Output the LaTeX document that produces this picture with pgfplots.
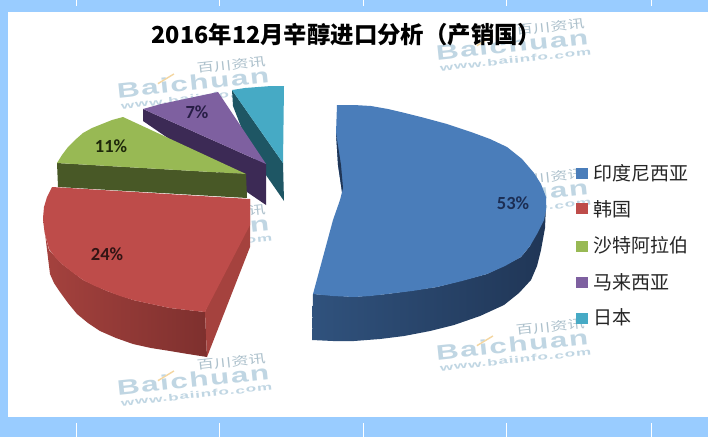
\documentclass[border=0pt]{standalone}
\usepackage{pgfplots}
\pgfplotsset{compat=1.18}
\usepackage{fontspec}
\setmainfont{Carlito}
\newfontfamily\cjk{Noto Sans CJK SC}
\newfontfamily\wm[LetterSpace=5]{Liberation Sans}
\definecolor{bg}{RGB}{153,204,255}
\definecolor{tb}{RGB}{74,125,186}\definecolor{sb}{RGB}{32,54,86}
\definecolor{sb2}{RGB}{48,82,125}
\definecolor{tr}{RGB}{190,76,74}\definecolor{sr}{RGB}{165,66,62}\definecolor{sr2}{RGB}{126,48,46}
\definecolor{tg}{RGB}{152,185,84}\definecolor{sg}{RGB}{72,88,38}
\definecolor{tp}{RGB}{126,96,160}\definecolor{sp}{RGB}{60,42,85}
\definecolor{tt}{RGB}{70,170,197}\definecolor{st}{RGB}{30,86,100}
\definecolor{wmc}{RGB}{192,214,227}
\definecolor{wmo}{RGB}{244,214,160}
\definecolor{lb}{RGB}{28,46,84}\definecolor{lr}{RGB}{50,20,20}\definecolor{lg}{RGB}{30,40,10}\definecolor{lp}{RGB}{40,30,70}
\newcommand{\logo}[2]{%
 \begin{scope}[shift={(axis cs:#1,#2)},rotate=6,transform shape]
 \node[text=wmc,inner sep=0] at (0,0) {\scalebox{1.5}[1]{\wm\bfseries\fontsize{21}{21}\selectfont Baichuan}};
 \node[text=wmc!90!black,inner sep=0] at (40pt,14pt) {\scalebox{1.15}[0.8]{\cjk\fontsize{15}{15}\selectfont 百川资讯}};
 \node[text=wmc,inner sep=0] at (2pt,-15pt) {\scalebox{1.8}[1]{\wm\bfseries\fontsize{9.5}{9.5}\selectfont www.baiinfo.com}};
 \draw[wmo,line width=1.4pt] (-35pt,3pt) -- (-18pt,11pt);
 \end{scope}}
\begin{document}
\begin{tikzpicture}
\begin{axis}[x=1pt,y=1pt,y dir=reverse,xmin=0,xmax=708,ymin=0,ymax=437,hide axis,clip=true,scale only axis]
% page
\addplot[fill=bg,draw=none] coordinates {(0,0)(708,0)(708,437)(0,437)} --cycle;
\addplot[fill=white,draw=none] coordinates {(8,12)(708,12)(708,417)(8,417)} --cycle;
\addplot[white,line width=0.4pt] coordinates {(76,0)(76,6)};
\addplot[white,line width=0.4pt] coordinates {(219,0)(219,6)};
\addplot[white,line width=0.4pt] coordinates {(363,0)(363,6)};
\addplot[white,line width=0.4pt] coordinates {(506,0)(506,6)};
\addplot[white,line width=0.4pt] coordinates {(651,0)(651,6)};
\addplot[white,line width=0.4pt] coordinates {(76,423)(76,437)};
\addplot[white,line width=0.4pt] coordinates {(219,423)(219,437)};
\addplot[white,line width=0.4pt] coordinates {(363,423)(363,437)};
\addplot[white,line width=0.4pt] coordinates {(506,423)(506,437)};
\addplot[white,line width=0.4pt] coordinates {(651,423)(651,437)};
% watermarks
\logo{193}{83}\logo{512}{45}\logo{193}{231}\logo{512}{195}\logo{193}{380}\logo{512}{345}
% teal
\addplot[fill=st,draw=none] coordinates {(232,90)(283,163)(284,201)(252,155)(233,106)} --cycle;
\addplot[fill=tt,draw=none] coordinates {(232,90)(245,88)(258,87)(271,86)(284,86)(283,163)} --cycle;
% purple
\addplot[fill=sp,draw=none] coordinates {(143,109)(143,121)(266,205)(266,164)} --cycle;
\addplot[fill=tp,draw=none] coordinates {(143,109)(161,104)(180,100)(199,96)(218,92)(266,164)} --cycle;
% green
\addplot[fill=sg,draw=none] coordinates {(57,163)(58,187)(247,198)(246,174)} --cycle;
\addplot[fill=tg,draw=none] coordinates {(57,163)(62,155)(68,147)(75,140)(83,133)(92,128)(102,124)(112,120)(123,117)(246,174)} --cycle;
% red
\addplot[draw=none,left color=sr,right color=sr2] coordinates {(43,217)(45,234)(49,250)(62,264)(83,280)(107,291)(133,300)(170,308)(205,312)(207,357)(188,354)(170,351)(151,348)(133,344)(116,338)(100,331)(88,323)(77,314)(68,303)(60,292)(54,283)(50,274)} --cycle;
\addplot[fill=sr,draw=none] coordinates {(205,312)(207,357)(250,247)(250,199)} --cycle;
\addplot[fill=tr,draw=none] coordinates {(52,187)(250,199)(250,225)(205,312)(187,310)(170,308)(151,304)(133,300)(120,296)(107,291)(95,286)(83,280)(72,272)(62,264)(55,257)(49,249)(45,234)(44,228)(43,218)(44,207)(47,197)} --cycle;
% blue
\addplot[draw=none,left color=sb2,right color=sb] coordinates {(313,294)(312,340)(333,341)(354,341)(380,339)(404,336)(430,331)(454,325)(480,316)(504,305)(519,293)(531,280)(537,266)(541,250)(545,228)(546,205)(530,246)(521,257)(487,274)(437,287)(387,294)(354,297)} --cycle;
\addplot[fill=tb,draw=none] coordinates {(337,105)(354,105)(371,106)(388,109)(405,113)(421,117)(447,124)(471,132)(490,139)(507,147)(522,159)(534,173)(541,184)(546,197)(546,210)(544,220)(537,234)(530,246)(521,257)(505,266)(487,274)(462,281)(437,287)(412,291)(387,294)(370,296)(354,297)(333,296)(313,294)(333,220)(340,200)(342,192)(338,165)(336,133)} --cycle;
\addplot[fill=sb,draw=none] coordinates {(336,133)(338,165)(342,192)(343,188)(341,165)} --cycle;
% labels
\node[font=\bfseries\fontsize{18.5}{18.5}\selectfont,text=lb] at (axis cs:513,203) {53\%};
\node[font=\bfseries\fontsize{18.5}{18.5}\selectfont,text=lr] at (axis cs:107,254) {24\%};
\node[font=\bfseries\fontsize{18.5}{18.5}\selectfont,text=lg] at (axis cs:111,146) {11\%};
\node[font=\bfseries\fontsize{18.5}{18.5}\selectfont,text=lp] at (axis cs:197,112) {7\%};
% title
\node[font=\cjk\bfseries\fontsize{23.4}{23.4}\selectfont,text=black] at (axis cs:346.5,34.5) {2016年12月辛醇进口分析（产销国）};
% legend
\addplot[fill=tb,draw=none] coordinates {(576,168)(588,168)(588,179)(576,179)} --cycle;
\addplot[fill=tr,draw=none] coordinates {(576,203)(588,203)(588,214)(576,214)} --cycle;
\addplot[fill=tg,draw=none] coordinates {(576,241)(588,241)(588,252)(576,252)} --cycle;
\addplot[fill=tp,draw=none] coordinates {(576,277)(588,277)(588,288)(576,288)} --cycle;
\addplot[fill=tt,draw=none] coordinates {(576,313)(588,313)(588,324)(576,324)} --cycle;
\node[anchor=west,inner sep=0,font=\cjk\fontsize{19}{19}\selectfont,text=black!85] at (axis cs:593.5,173) {印度尼西亚};
\node[anchor=west,inner sep=0,font=\cjk\fontsize{19}{19}\selectfont,text=black!85] at (axis cs:593.5,209) {韩国};
\node[anchor=west,inner sep=0,font=\cjk\fontsize{19}{19}\selectfont,text=black!85] at (axis cs:593.5,245) {沙特阿拉伯};
\node[anchor=west,inner sep=0,font=\cjk\fontsize{19}{19}\selectfont,text=black!85] at (axis cs:593.5,282) {马来西亚};
\node[anchor=west,inner sep=0,font=\cjk\fontsize{19}{19}\selectfont,text=black!85] at (axis cs:593.5,317) {日本};
\end{axis}
\end{tikzpicture}
\end{document}
